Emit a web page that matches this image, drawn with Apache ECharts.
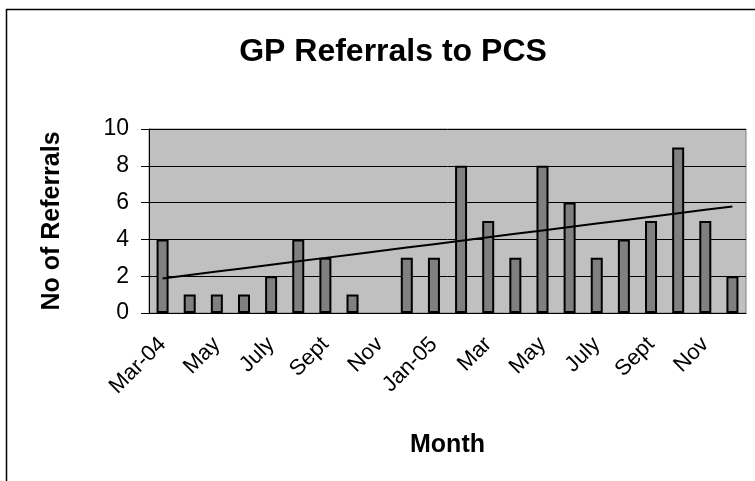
<!DOCTYPE html>
<html>
<head>
<meta charset="utf-8">
<script src="https://cdn.jsdelivr.net/npm/echarts@6/dist/echarts.min.js"></script>
<style>
  html, body { margin: 0; padding: 0; background: #fff; }
  #chart { width: 755px; height: 481px; }
</style>
</head>
<body>
<div id="chart"></div>
<script>
// months Mar-04 .. Dec-05
var months = ['Mar-04', 'Apr-04', 'May-04', 'Jun-04', 'Jul-04', 'Aug-04', 'Sep-04', 'Oct-04', 'Nov-04', 'Dec-04',
  'Jan-05', 'Feb-05', 'Mar-05', 'Apr-05', 'May-05', 'Jun-05', 'Jul-05', 'Aug-05', 'Sep-05', 'Oct-05', 'Nov-05', 'Dec-05'];
var tickLabels = ['Mar-04', '', 'May', '', 'July', '', 'Sept', '', 'Nov', '',
  'Jan-05', '', 'Mar', '', 'May', '', 'July', '', 'Sept', '', 'Nov', ''];
// no entry for Nov-04
var referrals = [4, 1, 1, 1, 2, 4, 3, 1, null, 3, 3, 8, 5, 3, 8, 6, 3, 4, 5, 9, 5, 2];

// linear trend (Excel style), empty months skipped
function trend(vals) {
  var n = 0, sx = 0, sy = 0, sxy = 0, sxx = 0;
  vals.forEach(function(v, i) {
    if (v == null) return;
    var x = i + 1;
    n++; sx += x; sy += v; sxy += x * v; sxx += x * x;
  });
  var slope = (n * sxy - sx * sy) / (n * sxx - sx * sx);
  var icpt = (sy - slope * sx) / n;
  return vals.map(function(v, i) { return +(icpt + slope * (i + 1)).toFixed(4); });
}
var trendLine = trend(referrals);

var font = '"Liberation Sans", Arial, sans-serif';
var chart = echarts.init(document.getElementById('chart'), null, { renderer: 'canvas' });

chart.setOption({
  backgroundColor: '#ffffff',
  animation: false,
  title: {
    text: 'GP Referrals to PCS',
    left: 388,
    top: 31,
    textAlign: 'center',
    textStyle: { fontFamily: font, fontSize: 32, fontWeight: 'bold', color: '#000' }
  },
  graphic: [{
    type: 'rect',
    z: -10,
    shape: { x: 6.5, y: 9.5, width: 900, height: 600 },
    style: { fill: 'none', stroke: '#000', lineWidth: 1.5 }
  }],
  grid: {
    left: 149, top: 129, width: 597, height: 184,
    show: true, backgroundColor: '#c0c0c0', borderColor: '#808080', borderWidth: 1
  },
  xAxis: {
    type: 'category',
    data: months,
    name: 'Month',
    nameLocation: 'middle',
    nameGap: 120,
    nameTextStyle: { fontFamily: font, fontSize: 25, fontWeight: 'bold', color: '#000' },
    axisLine: { lineStyle: { color: '#000', width: 1 } },
    axisTick: { interval: 0, length: 7, lineStyle: { color: '#000' } },
    axisLabel: {
      interval: 0,
      rotate: 45,
      margin: 28,
      fontFamily: font, fontSize: 22, color: '#000',
      formatter: function(v, i) { return tickLabels[i]; }
    }
  },
  yAxis: {
    type: 'value',
    min: 0, max: 10, interval: 2,
    name: 'No of Referrals',
    nameLocation: 'middle',
    nameGap: 84,
    nameTextStyle: { fontFamily: font, fontSize: 25, fontWeight: 'bold', color: '#000' },
    axisLine: { show: true, lineStyle: { color: '#000', width: 1 } },
    axisTick: { show: true, length: 8, lineStyle: { color: '#000' } },
    axisLabel: { margin: 20, fontFamily: font, fontSize: 23, color: '#000' },
    splitLine: { lineStyle: { color: '#000', width: 1 } }
  },
  series: [{
    type: 'bar',
    data: referrals,
    barWidth: 12,
    itemStyle: { color: '#808080', borderColor: '#000', borderWidth: 2 }
  }, {
    type: 'line',
    data: trendLine,
    showSymbol: false,
    symbol: 'none',
    z: 5,
    lineStyle: { color: '#000', width: 2 }
  }]
});
</script>
</body>
</html>
